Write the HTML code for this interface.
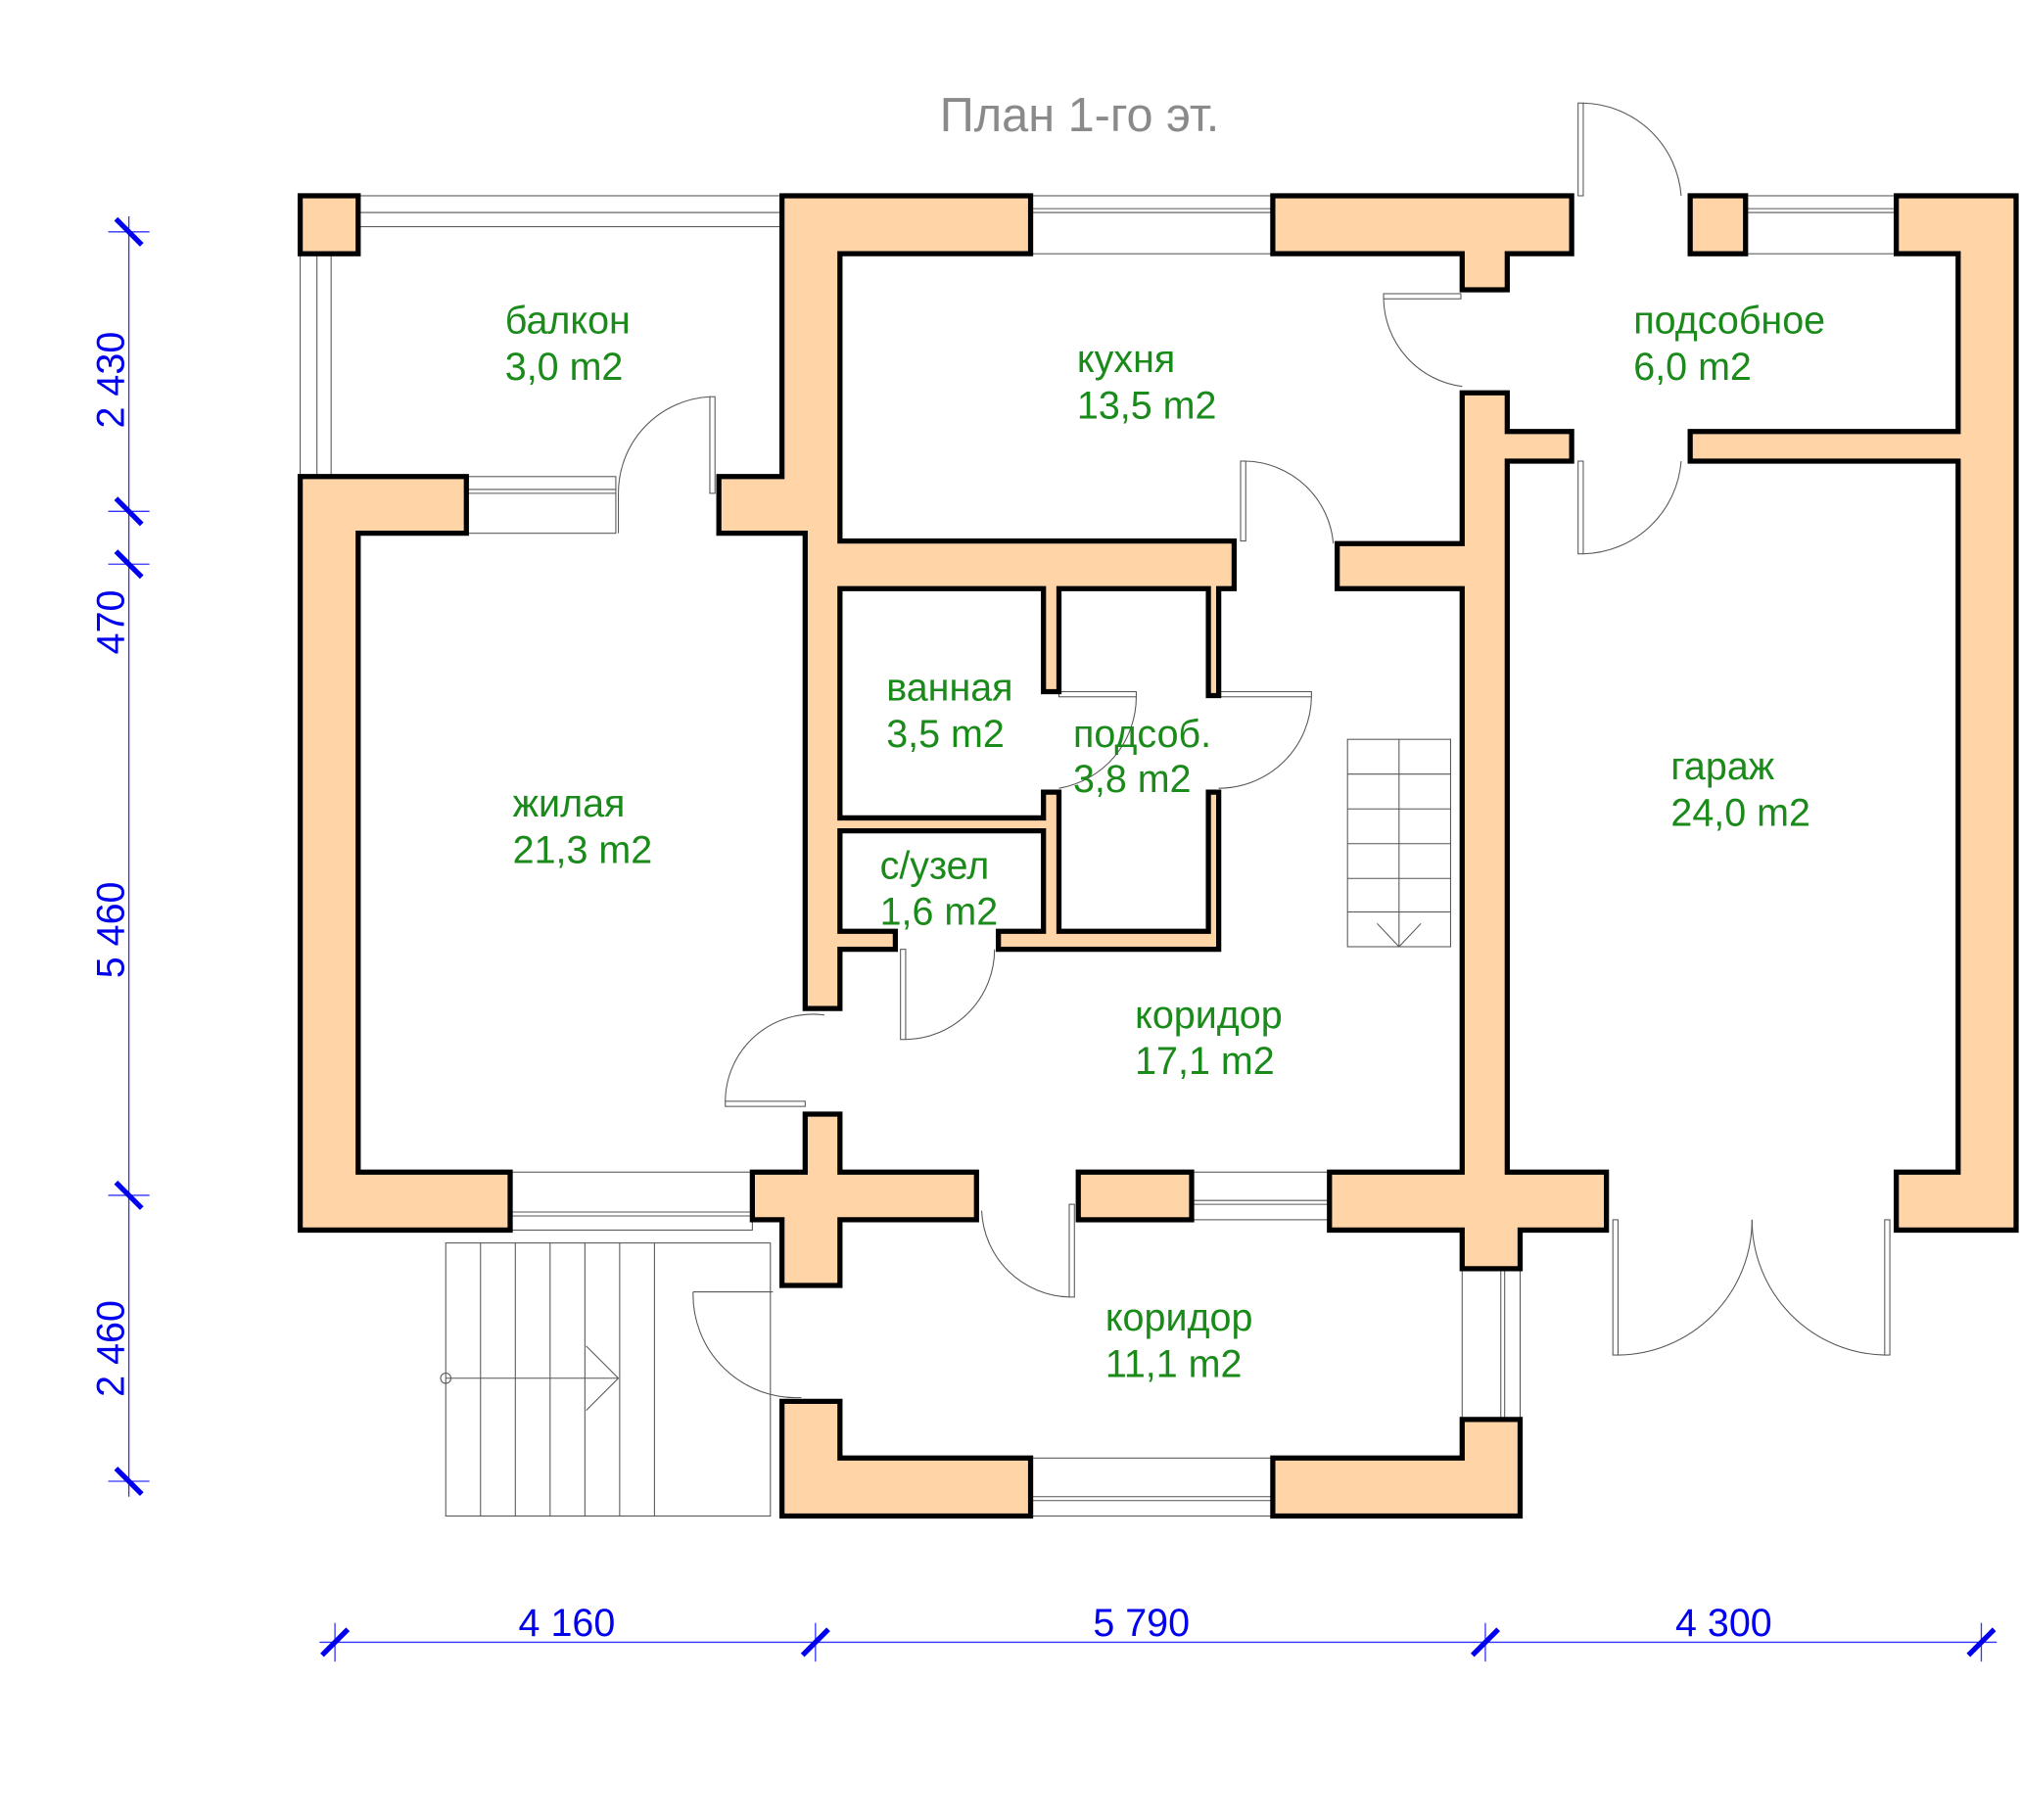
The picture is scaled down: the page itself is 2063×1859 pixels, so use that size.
<!DOCTYPE html>
<html><head><meta charset="utf-8"><style>html,body{margin:0;padding:0;background:#fff}svg{display:block}</style></head>
<body>
<svg width="2063" height="1859" viewBox="0 0 1568 1413" xmlns="http://www.w3.org/2000/svg">
<rect width="1568" height="1413" fill="#fff"/>
<g fill="none" stroke="#555" stroke-width="0.8">
<rect x="278" y="152" width="329" height="24"/><line x1="278" y1="165" x2="607" y2="165"/>
<rect x="233" y="197" width="24" height="173"/><line x1="246" y1="197" x2="246" y2="370"/>
<rect x="800" y="152" width="188" height="45"/><line x1="800" y1="162" x2="988" y2="162"/><line x1="800" y1="165" x2="988" y2="165"/>
<rect x="1355" y="152" width="117" height="45"/><line x1="1355" y1="162" x2="1472" y2="162"/><line x1="1355" y1="165" x2="1472" y2="165"/>
<rect x="362" y="370" width="116" height="44"/><line x1="362" y1="380" x2="478" y2="380"/><line x1="362" y1="383" x2="478" y2="383"/>
<rect x="396" y="910" width="188" height="45"/><line x1="396" y1="941" x2="584" y2="941"/><line x1="396" y1="944" x2="584" y2="944"/>
<rect x="925" y="910" width="107" height="37"/><line x1="925" y1="932" x2="1032" y2="932"/><line x1="925" y1="935" x2="1032" y2="935"/>
<rect x="800" y="1132" width="188" height="45"/><line x1="800" y1="1162" x2="988" y2="1162"/><line x1="800" y1="1165" x2="988" y2="1165"/>
<rect x="1135" y="985" width="45" height="117"/><line x1="1165" y1="985" x2="1165" y2="1102"/><line x1="1168" y1="985" x2="1168" y2="1102"/>
<rect x="551" y="308" width="4" height="75"/><path d="M551 308 A75 75 0 0 0 480 383"/>
<rect x="1225" y="80" width="4" height="72"/><path d="M1229 80 A78 78 0 0 1 1305 152"/>
<rect x="1074" y="228" width="60" height="4"/><path d="M1074 232 A70 70 0 0 0 1135 300"/>
<rect x="963" y="358" width="4" height="62"/><path d="M967 358 A70 70 0 0 1 1035 422"/>
<rect x="1225" y="358" width="4" height="72"/><path d="M1229 430 A78 78 0 0 0 1305 358"/>
<rect x="822" y="537" width="60" height="4"/><path d="M882 541 A72 72 0 0 1 822 612"/>
<rect x="946" y="537" width="72" height="4"/><path d="M1018 541 A72 72 0 0 1 946 612"/>
<rect x="699" y="737" width="4" height="70"/><path d="M703 807 A70 70 0 0 0 772 737"/>
<rect x="563" y="855" width="62" height="4"/><path d="M563 855 A68 68 0 0 1 640 788"/>
<rect x="830" y="935" width="4" height="72"/><path d="M830 1007 A70 70 0 0 1 762 940"/>
<path d="M538 1003 A80 80 0 0 0 622 1085"/><line x1="538" y1="1003" x2="600" y2="1003"/>
<rect x="1252" y="947" width="4" height="105"/><path d="M1256 1052 A105 105 0 0 0 1360 947"/>
<rect x="1463" y="947" width="4" height="105"/><path d="M1463 1052 A105 105 0 0 1 1360 947"/>
<line x1="480" y1="383" x2="480" y2="414"/>
<rect x="346" y="965" width="252" height="212"/>
<line x1="373" y1="965" x2="373" y2="1177"/><line x1="400" y1="965" x2="400" y2="1177"/><line x1="427" y1="965" x2="427" y2="1177"/><line x1="454" y1="965" x2="454" y2="1177"/><line x1="481" y1="965" x2="481" y2="1177"/><line x1="508" y1="965" x2="508" y2="1177"/>
<line x1="346" y1="1070" x2="480" y2="1070"/><polyline points="455,1045 480,1070 455,1095"/><circle cx="346" cy="1070" r="4"/>
<rect x="1046" y="574" width="80" height="161"/><line x1="1086" y1="574" x2="1086" y2="735"/>
<line x1="1046" y1="601" x2="1126" y2="601"/><line x1="1046" y1="628" x2="1126" y2="628"/><line x1="1046" y1="655" x2="1126" y2="655"/><line x1="1046" y1="682" x2="1126" y2="682"/><line x1="1046" y1="708" x2="1126" y2="708"/>
<polyline points="1069,717 1086,735 1103,717"/>
</g>
<g fill="#ffd5a8" stroke="#000" stroke-width="4" stroke-linejoin="miter">
<rect x="233" y="152" width="45" height="45"/>
<rect x="1312" y="152" width="43" height="45"/>
<polygon points="607,152 800,152 800,197 652,197 652,420 958,420 958,457 946,457 946,540 938,540 938,457 822,457 822,537 810,537 810,457 652,457 652,635 810,635 810,615 822,615 822,723 938,723 938,615 946,615 946,737 775,737 775,723 810,723 810,645 652,645 652,723 695,723 695,737 652,737 652,783 625,783 625,414 558,414 558,370 607,370"/>
<polygon points="988,152 1220,152 1220,197 1170,197 1170,225 1135,225 1135,197 988,197"/>
<polygon points="1472,152 1565,152 1565,955 1472,955 1472,910 1520,910 1520,358 1312,358 1312,335 1520,335 1520,197 1472,197"/>
<polygon points="1135,305 1170,305 1170,335 1220,335 1220,358 1170,358 1170,910 1247,910 1247,955 1180,955 1180,985 1135,985 1135,955 1032,955 1032,910 1135,910 1135,457 1038,457 1038,422 1135,422"/>
<polygon points="233,370 362,370 362,414 278,414 278,910 396,910 396,955 233,955"/>
<polygon points="625,865 652,865 652,910 758,910 758,947 652,947 652,998 607,998 607,947 584,947 584,910 625,910"/>
<rect x="837" y="910" width="88" height="37"/>
<polygon points="607,1088 652,1088 652,1132 800,1132 800,1177 607,1177"/>
<polygon points="988,1132 1135,1132 1135,1102 1180,1102 1180,1177 988,1177"/>
</g>
<g font-family="Liberation Sans, sans-serif" font-size="30" fill="#1a8a1a">
<text x="392" y="259">балкон</text><text x="392" y="295">3,0 m2</text>
<text x="836" y="289">кухня</text><text x="836" y="325">13,5 m2</text>
<text x="1268" y="259">подсобное</text><text x="1268" y="295">6,0 m2</text>
<text x="688" y="544">ванная</text><text x="688" y="580">3,5 m2</text>
<text x="833" y="580">подсоб.</text><text x="833" y="615">3,8 m2</text>
<text x="398" y="634">жилая</text><text x="398" y="670">21,3 m2</text>
<text x="683" y="682">с/узел</text><text x="683" y="718">1,6 m2</text>
<text x="1297" y="605">гараж</text><text x="1297" y="641">24,0 m2</text>
<text x="881" y="798">коридор</text><text x="881" y="834">17,1 m2</text>
<text x="858" y="1033">коридор</text><text x="858" y="1069">11,1 m2</text>
</g>
<text x="838" y="102" font-family="Liberation Sans, sans-serif" font-size="37" fill="#8a8a8a" text-anchor="middle">План 1-го эт.</text>
<g stroke="#3333ff" stroke-width="1">
<line x1="100" y1="168" x2="100" y2="1162"/>
<line x1="248" y1="1275" x2="1550" y2="1275"/>
<line x1="84" y1="180" x2="116" y2="180"/><line x1="84" y1="397" x2="116" y2="397"/><line x1="84" y1="438" x2="116" y2="438"/><line x1="84" y1="928" x2="116" y2="928"/><line x1="84" y1="1150" x2="116" y2="1150"/>
<line x1="260" y1="1260" x2="260" y2="1290"/><line x1="633" y1="1260" x2="633" y2="1290"/><line x1="1153" y1="1260" x2="1153" y2="1290"/><line x1="1538" y1="1260" x2="1538" y2="1290"/>
</g>
<g stroke="#0000ee" stroke-width="4">
<line x1="90" y1="170" x2="110" y2="190"/><line x1="90" y1="387" x2="110" y2="407"/><line x1="90" y1="428" x2="110" y2="448"/><line x1="90" y1="918" x2="110" y2="938"/><line x1="90" y1="1140" x2="110" y2="1160"/>
<line x1="250" y1="1285" x2="270" y2="1265"/><line x1="623" y1="1285" x2="643" y2="1265"/><line x1="1143" y1="1285" x2="1163" y2="1265"/><line x1="1528" y1="1285" x2="1548" y2="1265"/>
</g>
<g font-family="Liberation Sans, sans-serif" font-size="30" fill="#0000ee" text-anchor="middle">
<text x="440" y="1270">4 160</text><text x="886" y="1270">5 790</text><text x="1338" y="1270">4 300</text>
<text transform="translate(96,295) rotate(-90)">2 430</text>
<text transform="translate(96,483) rotate(-90)">470</text>
<text transform="translate(96,722) rotate(-90)">5 460</text>
<text transform="translate(96,1047) rotate(-90)">2 460</text>
</g>
</svg>
</body></html>
